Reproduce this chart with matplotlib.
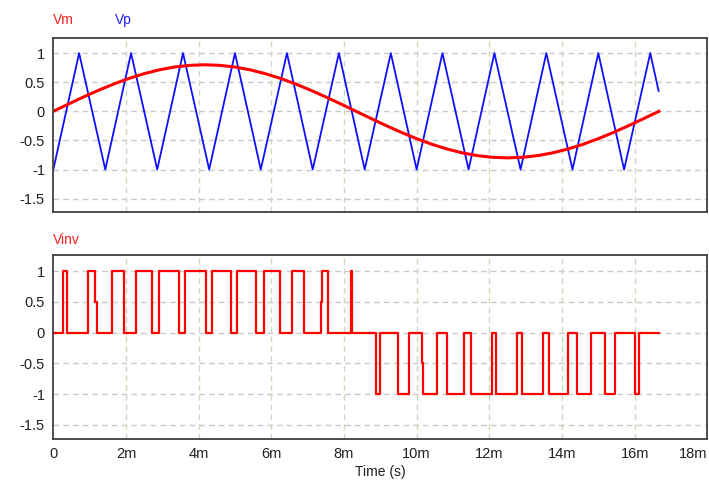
import matplotlib
matplotlib.use("Agg")
import matplotlib.pyplot as plt

plt.rcParams['font.family'] = ['Liberation Sans', 'DejaVu Sans']
plt.rcParams['axes.unicode_minus'] = False

# time in ms
vm_t = [0, 0.417, 0.833, 1.25, 1.667, 2.083, 2.5, 2.917, 3.333, 3.75, 4.167,
        4.583, 5.0, 5.417, 5.833, 6.25, 6.667, 7.083, 7.5, 7.917, 8.333,
        8.75, 9.167, 9.583, 10.0, 10.417, 10.833, 11.25, 11.667, 12.083, 12.5,
        12.917, 13.333, 13.75, 14.167, 14.583, 15.0, 15.417, 15.833, 16.25, 16.667]
vm_v = [0, 0.125, 0.247, 0.363, 0.47, 0.566, 0.647, 0.713, 0.761, 0.79, 0.8,
        0.79, 0.761, 0.713, 0.647, 0.566, 0.47, 0.363, 0.247, 0.125, 0,
        -0.125, -0.247, -0.363, -0.47, -0.566, -0.647, -0.713, -0.761, -0.79, -0.8,
        -0.79, -0.761, -0.713, -0.647, -0.566, -0.47, -0.363, -0.247, -0.125, 0]

vp_t = [0, 0.71, 1.43, 2.14, 2.86, 3.57, 4.29, 5.0, 5.71, 6.43, 7.14, 7.86,
        8.57, 9.29, 10.0, 10.71, 11.43, 12.14, 12.86, 13.57, 14.29, 15.0,
        15.71, 16.43, 16.66]
vp_v = [-1, 1, -1, 1, -1, 1, -1, 1, -1, 1, -1, 1,
        -1, 1, -1, 1, -1, 1, -1, 1, -1, 1,
        -1, 1, 0.35]

vinv_t = [0, 0.275, 0.368, 0.946, 1.15, 1.19, 1.606, 1.944, 2.265, 2.722,
          2.914, 3.456, 3.62, 4.19, 4.355, 4.885, 5.06, 5.59, 5.80, 6.23,
          6.58, 6.89, 7.36, 7.40, 7.56, 8.18, 8.23,
          8.87, 8.98, 9.485, 9.787, 10.14, 10.18, 10.557, 10.843, 11.30,
          11.50, 12.08, 12.19, 12.767, 12.905, 13.47, 13.636, 14.158,
          14.416, 14.80, 15.195, 15.47, 16.01, 16.13, 16.66]
vinv_v = [0, 1, 0, 1, 0.5, 0, 1, 0, 1, 0,
          1, 0, 1, 0, 1, 0, 1, 0, 1, 0,
          1, 0, 0.5, 1, 0, 1, 0,
          -1, 0, -1, 0, -0.5, -1, 0, -1, 0,
          -1, 0, -1, 0, -1, 0, -1, 0,
          -1, 0, -1, 0, -1, 0, 0]

xticks = [0, 2, 4, 6, 8, 10, 12, 14, 16, 18]
xlabels = ['0', '2m', '4m', '6m', '8m', '10m', '12m', '14m', '16m', '18m']
yticks = [1, 0.5, 0, -0.5, -1, -1.5]
ylabels = ['1', '0.5', '0', '-0.5', '-1', '-1.5']

fig = plt.figure(figsize=(7.09, 4.84), dpi=100)
ax1 = fig.add_axes([0.0752, 0.562, 0.9224, 0.3595])
ax2 = fig.add_axes([0.0752, 0.093, 0.9224, 0.380])

for ax in (ax1, ax2):
    ax.set_xlim(0, 18)
    ax.set_ylim(-1.73, 1.26)
    ax.set_xticks(xticks)
    ax.set_yticks(yticks)
    ax.set_yticklabels(ylabels, fontsize=10.5, color='#202020')
    ax.tick_params(length=0, pad=6)
    for y in yticks:
        ax.axhline(y, color='#c8c8c8', lw=1, ls=(0, (4, 3)), zorder=0)
    for x in xticks[1:-1]:
        ax.axvline(x, color='#cbd9bd', lw=1, ls=(0, (4, 3)), zorder=0)
    for s in ax.spines.values():
        s.set_color('#404040')
        s.set_linewidth(1.3)

ax1.set_xticklabels([])
ax1.plot(vp_t, vp_v, color='#1010ff', lw=1.3)
ax1.plot(vm_t, vm_v, color='#ff0000', lw=2.2)
fig.text(0.0752, 0.945, 'Vm', color='#ff2020', fontsize=10, va='bottom')
fig.text(0.162, 0.945, 'Vp', color='#2020ff', fontsize=10, va='bottom')

ax2.plot(vinv_t, vinv_v, color='#ff0000', lw=1.6, drawstyle='steps-post')
ax2.set_xticklabels(xlabels, fontsize=10.5, color='#202020')
ax2.get_xticklabels()[-1].set_horizontalalignment('right')
ax2.set_xlabel('Time (s)', fontsize=10, color='#202020', labelpad=3)
fig.text(0.0752, 0.49, 'Vinv', color='#ff2020', fontsize=10, va='bottom')

fig.savefig('out.png', dpi=100)
